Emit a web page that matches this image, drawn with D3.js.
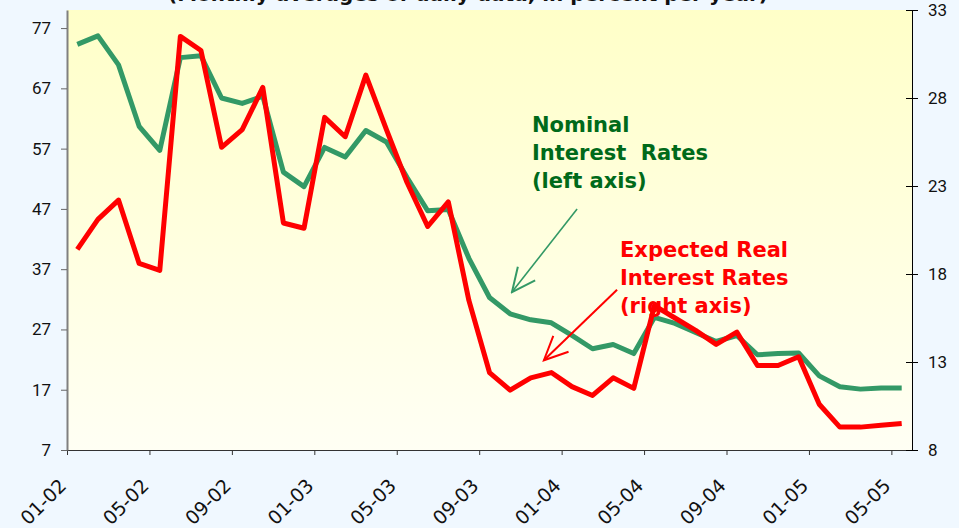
<!DOCTYPE html>
<html>
<head>
    <title>Nominal and Expected Real Interest Rates</title>
    <script src="https://d3js.org/d3.v7.min.js"></script>
    <style>
        body { margin:0; background:#f0f8ff; }
        .tick text { fill:#111; }
        .note { font-family:"DejaVu Sans"; font-weight:bold; font-size:21px; white-space:pre; }
    </style>
</head>
<body>
    <script>
        // months on the category axis
        var months = ["01-02","02-02","03-02","04-02","05-02","06-02","07-02","08-02","09-02","10-02","11-02","12-02",
                      "01-03","02-03","03-03","04-03","05-03","06-03","07-03","08-03","09-03","10-03","11-03","12-03",
                      "01-04","02-04","03-04","04-04","05-04","06-04","07-04","08-04","09-04","10-04","11-04","12-04",
                      "01-05","02-05","03-05","04-05","05-05"];
        // nominal interest rates, left axis
        var nominal = [74.3,75.7,70.9,60.7,56.7,72.1,72.4,65.4,64.5,65.7,53.1,50.7,
                       57.2,55.6,60.0,58.1,52.2,46.7,46.9,38.8,32.3,29.6,28.6,28.1,
                       26.0,23.8,24.5,23.0,29.0,28.0,26.5,25.0,26.0,22.8,23.0,23.1,
                       19.3,17.5,17.1,17.3,17.3];
        // expected real interest rates, right axis
        var real = [19.4,21.1,22.2,18.6,18.2,31.5,30.7,25.2,26.2,28.6,20.9,20.6,
                    26.9,25.8,29.3,26.2,23.2,20.7,22.1,16.5,12.4,11.4,12.1,12.4,
                    11.6,11.1,12.1,11.5,16.2,15.5,14.8,14.0,14.7,12.8,12.8,13.3,
                    10.6,9.3,9.3,9.4,9.5];
        var leftTicks = [7,17,27,37,47,57,67,77];
        var rightTicks = [8,13,18,23,28,33];

        var svg = d3.select("body").append("svg")
                    .attr("width",959).attr("height",528);

        var pLeft = 67, pRight = 912, pTop = 10, pBottom = 450;

        var x = d3.scaleLinear().domain([0, months.length]).range([pLeft, pRight]);
        var yL = d3.scaleLinear().domain([7,80]).range([pBottom, pTop]);
        var yR = d3.scaleLinear().domain([8,33]).range([pBottom, pTop]);

        var defs = svg.append("defs");
        var grad = defs.append("linearGradient")
                    .attr("id","bg").attr("x1",0).attr("y1",0).attr("x2",0).attr("y2",1);
        grad.append("stop").attr("offset","0%").attr("stop-color","#ffffc8");
        grad.append("stop").attr("offset","100%").attr("stop-color","#fffff4");

        svg.append("rect")
            .attr("x",pLeft).attr("y",pTop)
            .attr("width",pRight-pLeft).attr("height",pBottom-pTop)
            .attr("fill","url(#bg)");

        // title, mostly cut off at top of picture
        svg.append("text")
            .attr("x",468).attr("y",1)
            .attr("text-anchor","middle")
            .style("font-family","DejaVu Sans").style("font-weight","bold").style("font-size","20px")
            .attr("fill","#111")
            .text("(Monthly averages of daily data, in percent per year)");

        // x axis
        var xAxis = svg.append("g").attr("transform","translate(0,"+pBottom+")")
            .call(d3.axisBottom(x)
                .tickValues(d3.range(0, months.length, 4))
                .tickFormat(function(i){ return months[i]; })
                .tickSize(5).tickSizeOuter(0));
        xAxis.select(".domain").attr("stroke","#333");
        xAxis.selectAll(".tick line").attr("stroke","#333");
        xAxis.selectAll(".tick text")
            .style("font-family","DejaVu Sans").style("font-size","19px")
            .attr("text-anchor","end")
            .attr("y",0).attr("dy",0)
            .attr("transform","translate(0,37) rotate(-45)");

        // left axis
        var yAxisL = svg.append("g").attr("transform","translate("+pLeft+",0)")
            .call(d3.axisLeft(yL).tickValues(leftTicks).tickSize(6).tickSizeOuter(0).tickPadding(10));
        yAxisL.select(".domain").attr("stroke","#808080").attr("stroke-width",2);
        yAxisL.selectAll(".tick line").attr("stroke","#666");
        yAxisL.selectAll(".tick text").style("font-family","Roboto").style("font-size","17px");

        // right axis
        var yAxisR = svg.append("g").attr("transform","translate("+pRight+",0)")
            .call(d3.axisRight(yR).tickValues(rightTicks).tickSize(6).tickSizeOuter(0).tickPadding(10));
        yAxisR.select(".domain").attr("stroke","#000");
        yAxisR.selectAll(".tick line").attr("x1",-6).attr("stroke","#000");
        yAxisR.selectAll(".tick text").style("font-family","Roboto").style("font-size","17px");

        var lineL = d3.line()
            .x(function(d,i){ return x(i+0.5); })
            .y(function(d){ return yL(d); });
        var lineR = d3.line()
            .x(function(d,i){ return x(i+0.5); })
            .y(function(d){ return yR(d); });

        svg.append("path").datum(nominal)
            .attr("d",lineL)
            .attr("fill","none").attr("stroke","#339966")
            .attr("stroke-width",5).attr("stroke-linejoin","round");

        svg.append("path").datum(real)
            .attr("d",lineR)
            .attr("fill","none").attr("stroke","#ff0000")
            .attr("stroke-width",5).attr("stroke-linejoin","round");

        // arrowheads
        [["headG","#339966"],["headR","#ff0000"]].forEach(function(m){
            defs.append("marker")
                .attr("id",m[0]).attr("markerUnits","userSpaceOnUse")
                .attr("viewBox","-30 -15 32 30").attr("markerWidth",32).attr("markerHeight",30)
                .attr("refX",0).attr("refY",0).attr("orient","auto")
              .append("path")
                .attr("d","M-23.6,-11L0,0L-23.6,11")
                .attr("fill","none").attr("stroke",m[1]).attr("stroke-width",2);
        });

        // annotations
        svg.append("line")
            .attr("x1",x(24.75)).attr("y1",yL(47.0))
            .attr("x2",x(21.59)).attr("y2",yL(33.2))
            .attr("stroke","#339966").attr("stroke-width",1.6)
            .attr("marker-end","url(#headG)");
        svg.append("line")
            .attr("x1",x(26.69)).attr("y1",yR(17.1))
            .attr("x2",x(23.14)).attr("y2",yR(13.1))
            .attr("stroke","#ff0000").attr("stroke-width",2)
            .attr("marker-end","url(#headR)");

        var greenNote = ["Nominal","Interest  Rates","(left axis)"];
        var redNote = ["Expected Real","Interest Rates","(right axis)"];

        svg.append("g").selectAll("text").data(greenNote).enter().append("text")
            .attr("class","note").attr("fill","#006a1a")
            .attr("x",532).attr("y",function(d,i){ return 132 + i*28; })
            .text(function(d){ return d; });

        svg.append("g").selectAll("text").data(redNote).enter().append("text")
            .attr("class","note").attr("fill","#ff0000")
            .attr("x",620).attr("y",function(d,i){ return 257 + i*28; })
            .text(function(d){ return d; });
    </script>
</body>
</html>
